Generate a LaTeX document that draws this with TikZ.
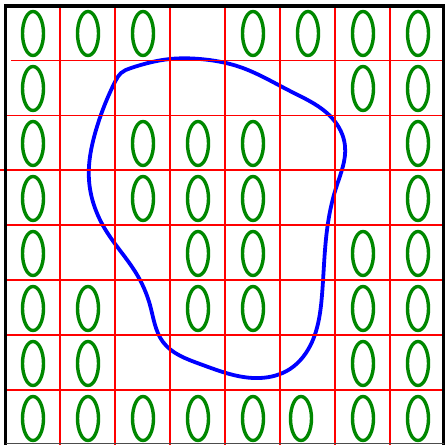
\documentclass[tikz,border=0pt]{standalone}
\usetikzlibrary{hobby}
\begin{document}
\begin{tikzpicture}[x=1pt,y=-1pt,
  gridline/.style={draw=red,line width=1.6pt},
  cellring/.style={draw={rgb,255:red,0;green,136;blue,0},line width=3.4pt},
  region/.style={draw=blue,line width=3.8pt},
  frame/.style={draw=black,line width=3.5pt}]
\useasboundingbox (0,0) rectangle (445,445);
% blue closed curve
\draw[region,use Hobby shortcut,closed=true]
 (121,73) .. (131,68) .. (170,59) .. (200,59) .. (240,67) .. (290,91) .. (332,118) .. (345,146)
 .. (336,188) .. (327,230) .. (322,295) .. (312,342) .. (290,369)
 .. (260,378) .. (200,364) .. (163,342) .. (150,305) .. (136,273)
 .. (105,229) .. (89,180) .. (96,130) .. (112,88) .. (116,80);
% green ellipses
\foreach \c/\r in {1/1,2/1,3/1,5/1,6/1,7/1,8/1,
                   1/2,7/2,8/2,
                   1/3,3/3,4/3,5/3,8/3,
                   1/4,3/4,4/4,5/4,8/4,
                   1/5,4/5,5/5,7/5,8/5,
                   1/6,2/6,4/6,5/6,7/6,8/6,
                   1/7,2/7,7/7,8/7,
                   1/8,2/8,3/8,4/8,5/8,7/8,8/8}
  \draw[cellring] ({33+55*(\c-1)},{33.5+55*(\r-1)}) ellipse [x radius=10.5,y radius=22];
\draw[cellring] (301,418.5) ellipse [x radius=10.5,y radius=22];
% red grid
\draw[gridline] (11,60.5) -- (443,60.5);
\draw[gridline] (7,115.5) -- (443,115.5);
\draw[gridline] (0,170) -- (443,170);
\foreach \y in {225,280,335,390} \draw[gridline] (7,\y) -- (443,\y);
\foreach \x in {60,115,170,225,280,335,390} \draw[gridline] (\x,8) -- (\x,445);
% frame
\draw[frame] (5.5,445) -- (5.5,6) -- (443.5,6) -- (443.5,445);
\draw[black!70,line width=1pt] (5.5,443.5) -- (443.5,443.5);
\end{tikzpicture}
\end{document}
